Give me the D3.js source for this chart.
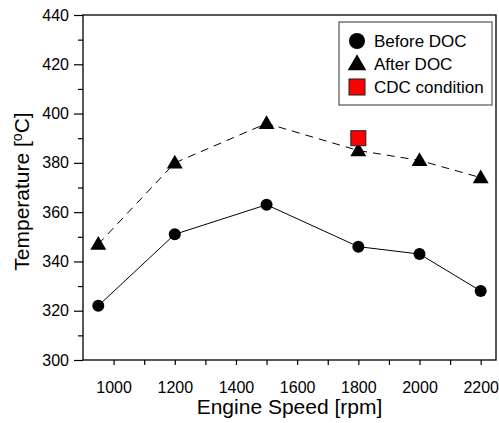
<!DOCTYPE html>
<html>
<head>
<meta charset="utf-8">
<script src="https://cdn.jsdelivr.net/npm/d3@7"></script>
<style>
  html, body { margin: 0; padding: 0; background: #fff; }
  svg { display: block; font-family: "Liberation Sans", Arial, sans-serif; }
</style>
</head>
<body>
<svg id="chart" width="499" height="423"></svg>
<script>
const speeds = [950, 1200, 1500, 1800, 2000, 2200];
const beforeDOC = [322, 351, 363, 346, 343, 328];
const afterDOC = [347, 380, 396, 385, 381, 374];
const cdcSpeed = [1800];
const cdcValue = [390];
const xTicks = [1000, 1200, 1400, 1600, 1800, 2000, 2200];
const yTicks = [300, 320, 340, 360, 380, 400, 420, 440];
const legendLabels = ["Before DOC", "After DOC", "CDC condition"];

const svg = d3.select("#chart");
const margin = { left: 83, top: 15, right: 3, bottom: 63 };
const W = 499, H = 423;
const x = d3.scaleLinear().domain([900, 2250]).range([margin.left, W - margin.right]);
const y = d3.scaleLinear().domain([300, 440]).range([H - margin.bottom, margin.top]);

// frame
svg.append("rect")
  .attr("x", x.range()[0]).attr("y", y.range()[1])
  .attr("width", x.range()[1] - x.range()[0])
  .attr("height", y.range()[0] - y.range()[1])
  .attr("fill", "none").attr("stroke", "#000").attr("stroke-width", 1.3);

// x axis
const xAxis = svg.append("g").attr("transform", `translate(0,${y.range()[0]})`);
xAxis.call(d3.axisBottom(x).tickValues(d3.range(1000, 2250, 100)).tickSize(5).tickFormat(""))
  .call(g => g.select(".domain").remove());
xAxis.call(g => g.selectAll("line").attr("stroke", "#000").attr("stroke-width", 1.2));
const xLab = svg.append("g").attr("transform", `translate(0,${y.range()[0]})`);
xLab.call(d3.axisBottom(x).tickValues(xTicks).tickSize(0).tickPadding(22).tickFormat(d3.format("d")))
  .call(g => g.select(".domain").remove())
  .call(g => g.selectAll("text").attr("font-size", 16).attr("fill", "#000")
    .attr("font-family", "Liberation Sans, Arial, sans-serif"));

// y axis
const yMinor = svg.append("g").attr("transform", `translate(${x.range()[0]},0)`);
yMinor.call(d3.axisLeft(y).tickValues(d3.range(310, 440, 20)).tickSize(5).tickFormat(""))
  .call(g => g.select(".domain").remove())
  .call(g => g.selectAll("line").attr("stroke", "#000").attr("stroke-width", 1.2));
const yMajor = svg.append("g").attr("transform", `translate(${x.range()[0]},0)`);
yMajor.call(d3.axisLeft(y).tickValues(yTicks).tickSize(9).tickPadding(5).tickFormat(d3.format("d")))
  .call(g => g.select(".domain").remove())
  .call(g => g.selectAll("line").attr("stroke", "#000").attr("stroke-width", 1.2))
  .call(g => g.selectAll("text").attr("font-size", 16).attr("fill", "#000")
    .attr("font-family", "Liberation Sans, Arial, sans-serif"));

// axis titles
svg.append("text")
  .attr("x", (x.range()[0] + x.range()[1]) / 2).attr("y", 414)
  .attr("text-anchor", "middle").attr("font-size", 21).text("Engine Speed [rpm]");
const yt = svg.append("text")
  .attr("transform", `translate(29,${(y.range()[0] + y.range()[1]) / 2 + 4}) rotate(-90)`)
  .attr("text-anchor", "middle").attr("font-size", 21);
yt.append("tspan").text("Temperature [");
yt.append("tspan").attr("font-size", 14).attr("dy", -7).text("o");
yt.append("tspan").attr("dy", 7).text("C]");

// lines
const line = d3.line().x(d => x(d[0])).y(d => y(d[1]));
const bData = speeds.map((s, i) => [s, beforeDOC[i]]);
const aData = speeds.map((s, i) => [s, afterDOC[i]]);
svg.append("path").datum(bData).attr("d", line)
  .attr("fill", "none").attr("stroke", "#000").attr("stroke-width", 1);
svg.append("path").datum(aData).attr("d", line)
  .attr("fill", "none").attr("stroke", "#000").attr("stroke-width", 1).attr("stroke-dasharray", "8,6");

// markers
const tri = d3.symbol().type(d3.symbolTriangle).size(110);
svg.append("g").selectAll("circle").data(bData).join("circle")
  .attr("cx", d => x(d[0])).attr("cy", d => y(d[1])).attr("r", 6).attr("fill", "#000");
svg.append("g").selectAll("path").data(aData).join("path")
  .attr("d", tri).attr("transform", d => `translate(${x(d[0])},${y(d[1]) + 1})`).attr("fill", "#000");
svg.append("g").selectAll("rect").data(cdcSpeed.map((s, i) => [s, cdcValue[i]])).join("rect")
  .attr("x", d => x(d[0]) - 7.5).attr("y", d => y(d[1]) - 7.5)
  .attr("width", 15).attr("height", 15)
  .attr("fill", "#ff0000").attr("stroke", "#222").attr("stroke-width", 1);

// legend
const lg = svg.append("g");
lg.append("rect").attr("x", 339).attr("y", 22).attr("width", 153).attr("height", 83)
  .attr("fill", "#fff").attr("stroke", "#555").attr("stroke-width", 1.2);
const ly = [41, 64, 87];
lg.append("circle").attr("cx", 357).attr("cy", ly[0]).attr("r", 8).attr("fill", "#000");
lg.append("path").attr("d", d3.symbol().type(d3.symbolTriangle).size(150))
  .attr("transform", `translate(357,${ly[1] + 1})`).attr("fill", "#000");
lg.append("rect").attr("x", 349).attr("y", ly[2] - 8).attr("width", 16).attr("height", 16)
  .attr("fill", "#ff0000").attr("stroke", "#222").attr("stroke-width", 1);
legendLabels.forEach((t, i) => {
  lg.append("text").attr("x", 374).attr("y", ly[i] + 6).attr("font-size", 17).text(t);
});
</script>
</body>
</html>
